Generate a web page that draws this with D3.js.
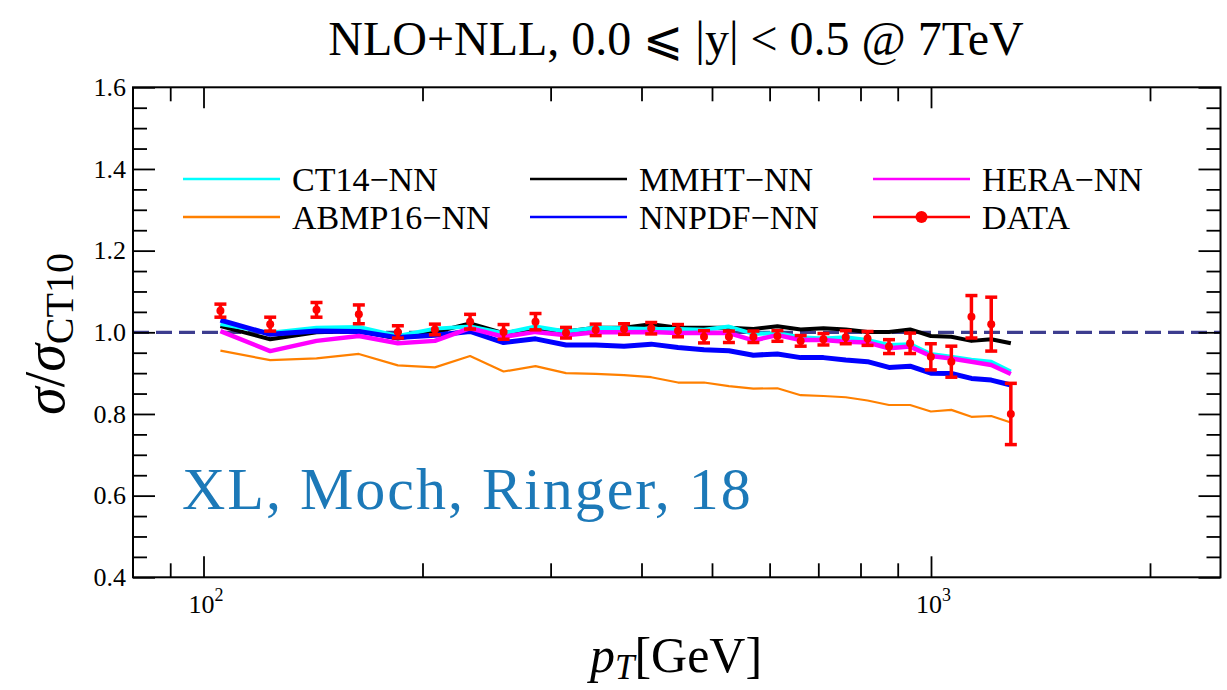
<!DOCTYPE html>
<html>
<head>
<meta charset="utf-8">
<script src="https://cdn.jsdelivr.net/npm/d3@7"></script>
<style>
  body { margin: 0; background: #fff; }
  svg text { font-family: "Liberation Serif", "Times New Roman", "DejaVu Serif", serif; }
</style>
</head>
<body>
<svg id="chart" width="1227" height="690"></svg>
<script>
// Jet pT bin centres (GeV)
const pT = [105.5, 123.5, 143, 163.5, 185, 208, 232.5, 258.5, 286, 315, 346, 378.5, 412.5, 449,
            487.5, 527.5, 570, 615, 662, 711.5, 763.5, 818, 875.5, 936, 999.5, 1066.5, 1136.5, 1210, 1287.5];

// Measured ratio to CT10 and its uncertainty
const dataRatio = [1.053, 1.020, 1.055, 1.044, 1.001, 1.007, 1.026, 1.001, 1.026, 0.999, 1.006, 1.008, 1.010, 1.004,
                   0.989, 0.989, 0.989, 0.991, 0.979, 0.983, 0.988, 0.985, 0.965, 0.973, 0.940, 0.928, 1.038, 1.020, 0.800];
const dataErr = [0.016, 0.017, 0.018, 0.023, 0.015, 0.013, 0.018, 0.018, 0.020, 0.013, 0.014, 0.013, 0.014, 0.015,
                 0.015, 0.014, 0.014, 0.013, 0.013, 0.014, 0.016, 0.017, 0.017, 0.025, 0.032, 0.038, 0.052, 0.066, 0.075];

// NLO+NLL predictions for each PDF set, ratio to CT10
const ct14 = [1.020, 0.999, 1.011, 1.013, 0.991, 1.009, 1.014, 0.998, 1.014, 1.002, 1.011, 1.010, 1.008, 1.008,
              1.006, 1.014, 0.996, 0.998, 0.988, 0.985, 0.988, 0.981, 0.969, 0.971, 0.947, 0.940, 0.933, 0.928, 0.904];
const abmp16 = [0.955, 0.932, 0.936, 0.947, 0.919, 0.914, 0.942, 0.904, 0.917, 0.900, 0.898, 0.895, 0.890, 0.877,
                0.877, 0.868, 0.862, 0.863, 0.846, 0.844, 0.841, 0.833, 0.822, 0.822, 0.806, 0.810, 0.793, 0.795, 0.779];
const mmht = [1.015, 0.983, 1.000, 1.003, 0.985, 1.000, 1.022, 0.998, 1.010, 1.002, 1.011, 1.011, 1.020, 1.011,
              1.011, 1.011, 1.008, 1.015, 1.007, 1.010, 1.007, 1.001, 1.001, 1.007, 0.991, 0.989, 0.979, 0.983, 0.973];
const nnpdf = [1.030, 0.995, 1.003, 1.002, 0.987, 0.993, 1.002, 0.975, 0.984, 0.969, 0.969, 0.966, 0.971, 0.963,
               0.957, 0.955, 0.944, 0.947, 0.938, 0.938, 0.932, 0.928, 0.914, 0.917, 0.900, 0.899, 0.887, 0.883, 0.871];
const hera = [1.003, 0.954, 0.979, 0.991, 0.973, 0.979, 1.010, 0.989, 1.001, 0.993, 1.000, 1.000, 1.001, 0.998,
              0.999, 0.998, 0.980, 0.993, 0.981, 0.981, 0.977, 0.975, 0.961, 0.965, 0.942, 0.936, 0.928, 0.920, 0.898];

// Axis ticks
const yMajorTicks = [0.4, 0.6, 0.8, 1.0, 1.2, 1.4, 1.6];
const yMinorTicks = d3.range(0.45, 1.6, 0.05).map(v => +v.toFixed(2)).filter(v => !yMajorTicks.includes(v));
const xMajorTicks = [100, 1000];
const xMinorTicks = [90, 200, 300, 400, 500, 600, 700, 800, 900, 2000];

// Drawing order and styles of the prediction curves
const curves = [
  { name: "ABMP16\u2212NN", values: abmp16, color: "#ff8000", width: 2.2 },
  { name: "MMHT\u2212NN",   values: mmht,   color: "#000000", width: 4 },
  { name: "CT14\u2212NN",   values: ct14,   color: "#00ffff", width: 4 },
  { name: "NNPDF\u2212NN",  values: nnpdf,  color: "#0000ff", width: 5 },
  { name: "HERA\u2212NN",   values: hera,   color: "#ff00ff", width: 4.5 }
];

// Legend entries (filled column by column, two rows)
const legendItems = [
  { name: "CT14\u2212NN",   color: "#00ffff" },
  { name: "ABMP16\u2212NN", color: "#ff8000" },
  { name: "MMHT\u2212NN",   color: "#000000" },
  { name: "NNPDF\u2212NN",  color: "#0000ff" },
  { name: "HERA\u2212NN",   color: "#ff00ff" },
  { name: "DATA",           color: "#ff0000", marker: true }
];

const svg = d3.select("#chart");
const plotL = 133, plotR = 1220.5, plotT = 87.3, plotB = 577.3;

const x = d3.scaleLog().domain([80, 2500]).range([plotL, plotR]);
const y = d3.scaleLinear().domain([0.4, 1.6]).range([plotB, plotT]);

// Title
svg.append("text")
  .attr("x", 676).attr("y", 55)
  .attr("text-anchor", "middle")
  .attr("font-size", 48)
  .text("NLO+NLL, 0.0 \u2A7D |y| < 0.5 @ 7TeV");

// Clip for the plot body
svg.append("clipPath").attr("id", "plotClip")
  .append("rect").attr("x", plotL).attr("y", plotT).attr("width", plotR - plotL).attr("height", plotB - plotT);

const body = svg.append("g").attr("clip-path", "url(#plotClip)");

// Reference line at ratio 1
body.append("line")
  .attr("x1", plotL).attr("x2", plotR)
  .attr("y1", y(1)).attr("y2", y(1))
  .attr("stroke", "#3d3d8f")
  .attr("stroke-width", 3.2)
  .attr("stroke-dasharray", "16,7");

// Prediction curves
const line = d3.line().x((d, i) => x(pT[i])).y(d => y(d));
curves.forEach(c => {
  body.append("path")
    .datum(c.values)
    .attr("d", line)
    .attr("fill", "none")
    .attr("stroke", c.color)
    .attr("stroke-width", c.width)
    .attr("stroke-linejoin", "round");
});

// Data points with error bars
const pts = body.append("g").selectAll("g")
  .data(pT.map((p, i) => ({ p, v: dataRatio[i], e: dataErr[i] })))
  .join("g");
pts.append("line")
  .attr("x1", d => x(d.p)).attr("x2", d => x(d.p))
  .attr("y1", d => y(d.v - d.e)).attr("y2", d => y(d.v + d.e))
  .attr("stroke", "#ff0000").attr("stroke-width", 3.5);
[-1, 1].forEach(s => {
  pts.append("line")
    .attr("x1", d => x(d.p) - 6).attr("x2", d => x(d.p) + 6)
    .attr("y1", d => y(d.v + s * d.e)).attr("y2", d => y(d.v + s * d.e))
    .attr("stroke", "#ff0000").attr("stroke-width", 3.5);
});
pts.append("circle")
  .attr("cx", d => x(d.p)).attr("cy", d => y(d.v))
  .attr("r", 4).attr("fill", "#ff0000");

// Watermark
svg.append("text")
  .attr("x", 182).attr("y", 509)
  .attr("font-size", 60)
  .attr("fill", "#1c79b8")
  .attr("letter-spacing", 2)
  .text("XL, Moch, Ringer, 18");

// Axes: ticks point inward on all four sides
function styleAxis(g) {
  g.select(".domain").remove();
  g.selectAll(".tick line").attr("stroke", "#000").attr("stroke-width", 1.8);
}
svg.append("g").attr("transform", `translate(${plotL},0)`)
  .call(d3.axisLeft(y).tickValues(yMajorTicks).tickSize(-22).tickPadding(7).tickFormat(d3.format(".1f")))
  .call(styleAxis)
  .call(g => g.selectAll("text").attr("font-size", 26).attr("fill", "#000"));
svg.append("g").attr("transform", `translate(${plotL},0)`)
  .call(d3.axisLeft(y).tickValues(yMinorTicks).tickSize(-14).tickFormat(""))
  .call(styleAxis);
svg.append("g").attr("transform", `translate(${plotR},0)`)
  .call(d3.axisRight(y).tickValues(yMajorTicks).tickSize(-22).tickFormat(""))
  .call(styleAxis);
svg.append("g").attr("transform", `translate(${plotR},0)`)
  .call(d3.axisRight(y).tickValues(yMinorTicks).tickSize(-14).tickFormat(""))
  .call(styleAxis);

svg.append("g").attr("transform", `translate(0,${plotB})`)
  .call(d3.axisBottom(x).tickValues(xMajorTicks).tickSize(-21).tickFormat(""))
  .call(styleAxis)
  .call(g => g.selectAll(".tick").append("text")
    .attr("y", 36).attr("x", 2)
    .attr("text-anchor", "middle")
    .attr("font-size", 26)
    .attr("fill", "#000")
    .each(function (d) {
      const t = d3.select(this);
      t.append("tspan").text("10");
      t.append("tspan").attr("dy", -12).attr("font-size", 18).text(Math.round(Math.log10(d)));
    }));
svg.append("g").attr("transform", `translate(0,${plotB})`)
  .call(d3.axisBottom(x).tickValues(xMinorTicks).tickSize(-14).tickFormat(""))
  .call(styleAxis);
svg.append("g").attr("transform", `translate(0,${plotT})`)
  .call(d3.axisTop(x).tickValues(xMajorTicks).tickSize(-21).tickFormat(""))
  .call(styleAxis);
svg.append("g").attr("transform", `translate(0,${plotT})`)
  .call(d3.axisTop(x).tickValues(xMinorTicks).tickSize(-14).tickFormat(""))
  .call(styleAxis);

// Frame
svg.append("rect")
  .attr("x", plotL).attr("y", plotT)
  .attr("width", plotR - plotL).attr("height", plotB - plotT)
  .attr("fill", "none").attr("stroke", "#000").attr("stroke-width", 2);

// Legend
const legendCols = [183, 530, 873];
const legendRows = [179, 217];
legendItems.forEach((item, i) => {
  const lx = legendCols[Math.floor(i / 2)];
  const ly = legendRows[i % 2];
  const g = svg.append("g");
  g.append("line")
    .attr("x1", lx).attr("x2", lx + 97)
    .attr("y1", ly).attr("y2", ly)
    .attr("stroke", item.color).attr("stroke-width", 2.7);
  if (item.marker) {
    g.append("circle").attr("cx", lx + 48.5).attr("cy", ly).attr("r", 6).attr("fill", item.color);
  }
  g.append("text")
    .attr("x", lx + 109).attr("y", ly + 12)
    .attr("font-size", 34)
    .text(item.name);
});

// Y-axis title: sigma / sigma_CT10
const yTitle = svg.append("text")
  .attr("transform", "translate(64,334) rotate(-90)")
  .attr("text-anchor", "middle")
  .attr("font-size", 56);
yTitle.append("tspan").attr("font-style", "italic").text("\u03C3");
yTitle.append("tspan").text("/");
yTitle.append("tspan").attr("font-style", "italic").text("\u03C3");
yTitle.append("tspan").attr("font-size", 40).attr("dy", 9).text("CT10");

// X-axis title: p_T [GeV]
const xTitle = svg.append("text")
  .attr("x", 676).attr("y", 672)
  .attr("text-anchor", "middle")
  .attr("font-size", 50);
xTitle.append("tspan").attr("font-style", "italic").text("p");
xTitle.append("tspan").attr("font-style", "italic").attr("font-size", 35).attr("dy", 7).text("T");
xTitle.append("tspan").attr("dy", -7).text("[GeV]");
</script>
</body>
</html>
